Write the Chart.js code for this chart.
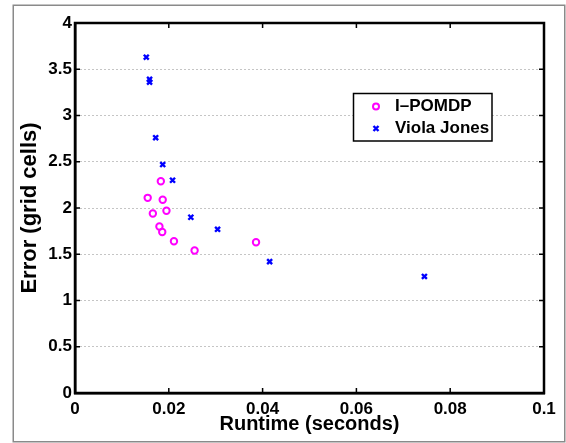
<!DOCTYPE html>
<html>
<head>
<meta charset="utf-8">
<script src="https://cdn.jsdelivr.net/npm/chart.js@4.4.1/dist/chart.umd.min.js"></script>
<style>
html,body{margin:0;padding:0;background:#fff;}
#wrap{width:566px;height:443px;position:relative;}
</style>
</head>
<body>
<div id="wrap"><canvas id="c" width="566" height="443"></canvas></div>
<script>
// ---- data ----
const ipomdpRuntime = [0.0183, 0.0155, 0.0187, 0.0166, 0.0195, 0.0180, 0.0186, 0.0211, 0.0255, 0.0386];
const ipomdpError   = [2.29, 2.11, 2.09, 1.94, 1.97, 1.80, 1.74, 1.64, 1.54, 1.63];
const violaRuntime  = [0.0152, 0.0159, 0.0159, 0.0172, 0.0187, 0.0208, 0.0247, 0.0304, 0.0415, 0.0745];
const violaError    = [3.63, 3.39, 3.36, 2.76, 2.47, 2.30, 1.90, 1.77, 1.42, 1.26];
const seriesNames   = ['I\u2013POMDP', 'Viola Jones'];
const xTickLabels   = ['0', '0.02', '0.04', '0.06', '0.08', '0.1'];
const yTickLabels   = ['0', '0.5', '1', '1.5', '2', '2.5', '3', '3.5', '4'];
const xAxisTitle    = 'Runtime (seconds)';
const yAxisTitle    = 'Error (grid cells)';

const FONT = '"Liberation Sans", Arial, Helvetica, sans-serif';
const MAGENTA = '#ff00ff';
const BLUE = '#0000ff';

function pts(xs, ys){ return xs.map((x,i)=>({x:x, y:ys[i]})); }

const framePlugin = {
  id: 'frame',
  beforeDraw(chart){
    const ctx = chart.ctx;
    ctx.save();
    ctx.fillStyle = '#fff';
    ctx.fillRect(0,0,chart.width,chart.height);
    ctx.strokeStyle = '#8a8a8a';
    ctx.lineWidth = 1.5;
    ctx.strokeRect(13.25, 5.25, 551.5, 436.5);
    ctx.restore();
  },
  afterDatasetsDraw(chart){
    const ctx = chart.ctx;
    const a = chart.chartArea;
    const xs = chart.scales.x, ys = chart.scales.y;
    ctx.save();
    // inward ticks on all four sides
    ctx.strokeStyle = '#000';
    ctx.lineWidth = 1.5;
    ctx.beginPath();
    xs.ticks.forEach(t=>{
      const px = xs.getPixelForValue(t.value);
      ctx.moveTo(px, a.bottom); ctx.lineTo(px, a.bottom-5);
      ctx.moveTo(px, a.top); ctx.lineTo(px, a.top+5);
    });
    ys.ticks.forEach(t=>{
      const py = ys.getPixelForValue(t.value);
      ctx.moveTo(a.left, py); ctx.lineTo(a.left+5, py);
      ctx.moveTo(a.right, py); ctx.lineTo(a.right-5, py);
    });
    ctx.stroke();
    // box
    ctx.lineWidth = 2.5;
    ctx.strokeRect(a.left, a.top, a.right-a.left, a.bottom-a.top);
    // legend
    const lx = 353.5, ly = 93.5, lw = 138.5, lh = 47.5;
    ctx.fillStyle = '#fff';
    ctx.fillRect(lx, ly, lw, lh);
    ctx.lineWidth = 1.5;
    ctx.strokeStyle = '#000';
    ctx.strokeRect(lx, ly, lw, lh);
    const rows = [106.5, 128.5];
    chart.data.datasets.forEach((ds, i)=>{
      const y = rows[i];
      ctx.strokeStyle = ds.borderColor;
      ctx.lineWidth = ds.borderWidth;
      ctx.beginPath();
      if (i === 0) {
        ctx.arc(376, y, 3, 0, Math.PI*2);
      } else {
        ctx.moveTo(373.5, y-2.5); ctx.lineTo(378.5, y+2.5);
        ctx.moveTo(378.5, y-2.5); ctx.lineTo(373.5, y+2.5);
      }
      ctx.stroke();
      ctx.fillStyle = '#000';
      ctx.font = 'bold 17px ' + FONT;
      ctx.textBaseline = 'middle';
      ctx.textAlign = 'left';
      ctx.fillText(ds.label, 395, y);
    });
    ctx.restore();
  }
};

new Chart(document.getElementById('c'), {
  type: 'scatter',
  data: {
    datasets: [
      { label: seriesNames[0], data: pts(ipomdpRuntime, ipomdpError),
        pointStyle: 'circle', pointRadius: 3.2, borderColor: MAGENTA, backgroundColor: 'transparent', borderWidth: 2 },
      { label: seriesNames[1], data: pts(violaRuntime, violaError),
        pointStyle: 'crossRot', pointRadius: 3.5, borderColor: BLUE, backgroundColor: BLUE, borderWidth: 2.4 }
    ]
  },
  options: {
    responsive: false,
    animation: false,
    events: [],
    layout: { padding: { left: 14, top: 23, right: 22, bottom: 0 } },
    plugins: { legend: { display: false }, tooltip: { enabled: false } },
    scales: {
      x: {
        type: 'linear', min: 0, max: 0.1,
        afterFit(s){ s.height = 50; },
        afterBuildTicks(s){ s.ticks = xTickLabels.map((l,i)=>({value: i*0.02})); },
        ticks: {
          padding: 6, color: '#000', font: { family: FONT, size: 17, weight: 'bold' },
          callback: (v, i) => xTickLabels[i], maxRotation: 0, autoSkip: false
        },
        grid: { display: false, drawTicks: false },
        border: { display: true, color: '#000', width: 2.5 },
        title: { display: true, text: xAxisTitle, color: '#000',
                 font: { family: FONT, size: 20, weight: 'bold' }, padding: { top: 0, bottom: 7 } }
      },
      y: {
        type: 'linear', min: 0, max: 4,
        afterFit(s){ s.width = 61; },
        afterBuildTicks(s){ s.ticks = yTickLabels.map((l,i)=>({value: i*0.5})); },
        ticks: {
          padding: 3, color: '#000', font: { family: FONT, size: 17, weight: 'bold' },
          callback: (v, i) => yTickLabels[i], autoSkip: false
        },
        grid: {
          drawTicks: false, tickLength: 0, lineWidth: 1,
          color: c => (c.tick && (c.index === 0 || c.index === yTickLabels.length-1)) ? 'rgba(0,0,0,0)' : '#8a8a8a'
        },
        border: { display: true, color: '#000', width: 2.5, dash: [1, 3] },
        title: { display: true, text: yAxisTitle, color: '#000',
                 font: { family: FONT, size: 22, weight: 'bold' }, padding: { top: 3, bottom: 0 } }
      }
    }
  },
  plugins: [framePlugin]
});
</script>
</body>
</html>
